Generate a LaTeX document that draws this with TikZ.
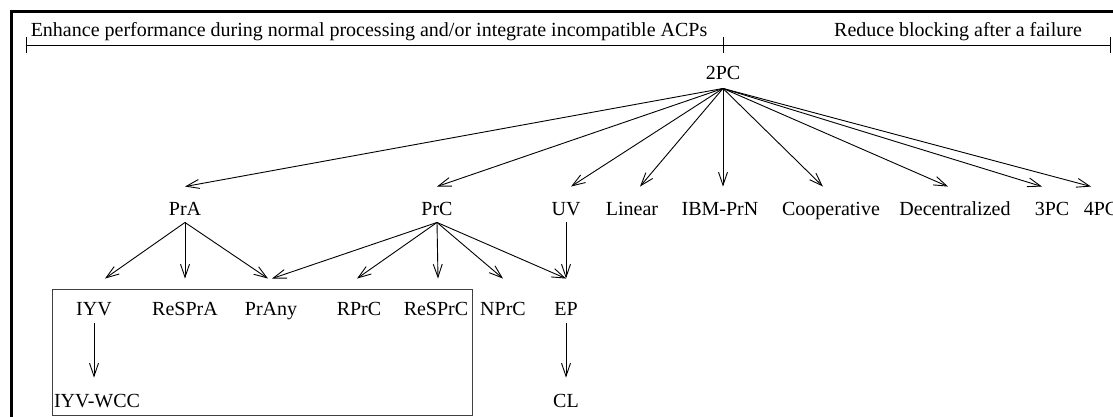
\documentclass[tikz,border=0pt]{standalone}
\usepackage{fontspec}
\setmainfont{Liberation Serif}
\usetikzlibrary{arrows.meta}
\begin{document}
\begin{tikzpicture}[x=1pt, y=-1pt, line width=0.9pt,
		every node/.style={font=\fontsize{20}{24}\selectfont, inner sep=0pt, anchor=base},
		root/.style={text depth=8pt},
		mid/.style={text height=28pt, text depth=7pt},
		low/.style={text height=36pt, text depth=8pt},
		leaf/.style={text height=29pt},
		arr/.style={-{Straight Barb[length=13pt, width=9pt]}}]
		\clip (0,0) rectangle (1113,417);
		\draw[line width=3pt] (11,430) -- (11,12) -- (1130,12);
		
		%range bar on top
		\draw (26,45) -- (1110,45);
		\draw (26,37) -- (26,53);
		\draw (723,37) -- (723,53);
		\draw (1110,37) -- (1110,53);
		\node (perf) at (369,37) {Enhance performance during normal processing and/or integrate incompatible ACPs};
		\node (block) at (958,37) {Reduce blocking after a failure};
		
		%root
		\node[root] (tpc) at (723,80) {2PC};
		
		%second level
		\node[mid] (PrA) at (185,215) {PrA};
		\node[mid] (PrC) at (437,215) {PrC};
		\node[mid] (UV) at (566,215) {UV};
		\node[mid] (Linear) at (632,215) {Linear};
		\node[mid] (IBMPrN) at (720,215) {IBM-PrN};
		\node[mid] (Coop) at (831,215) {Cooperative};
		\node[mid] (Decen) at (955,215) {Decentralized};
		\node[mid] (tpcThree) at (1052,215) {3PC};
		\node[mid] (tpcFour) at (1101,215) {4PC};
		
		\draw[arr] (tpc.south) -- (PrA.north);
		\draw[arr] (tpc.south) -- (PrC.north);
		\draw[arr] (tpc.south) -- ([xshift=5pt]UV.north);
		\draw[arr] (tpc.south) -- ([xshift=8pt]Linear.north);
		\draw[arr] (tpc.south) -- (tpc.south |- IBMPrN.north);
		\draw[arr] (tpc.south) -- ([xshift=-8pt]Coop.north);
		\draw[arr] (tpc.south) -- ([xshift=-7pt]Decen.north);
		\draw[arr] (tpc.south) -- ([xshift=-10pt]tpcThree.north);
		\draw[arr] (tpc.south) -- ([xshift=-10pt]tpcFour.north);
		
		%third level, the boxed group
		\draw[black!75] (52,289) rectangle (472,415);
		\node[low] (IYV) at (94,315) {IYV};
		\node[low] (ReSPrA) at (185,315) {ReSPrA};
		\node[low] (PrAny) at (271,315) {PrAny};
		\node[low] (RPrC) at (359,315) {RPrC};
		\node[low] (ReSPrC) at (436,315) {ReSPrC};
		\node[low] (NPrC) at (503,315) {NPrC};
		\node[low] (EP) at (566,315) {EP};
		
		\draw[arr] (PrA.south) -- ([xshift=11pt]IYV.north);
		\draw[arr] (PrA.south) -- (ReSPrA.north);
		\draw[arr] (PrA.south) -- ([xshift=-3pt]PrAny.north);
		\draw[arr] (PrC.south) -- ([xshift=1pt]PrAny.north);
		\draw[arr] (PrC.south) -- ([xshift=-2pt]RPrC.north);
		\draw[arr] (PrC.south) -- ([xshift=2pt]ReSPrC.north);
		\draw[arr] (PrC.south) -- (NPrC.north);
		\draw[arr] (PrC.south) -- (EP.north);
		\draw[arr] (UV.south) -- (EP.north);
		
		%leaves
		\node[leaf] (IYVWCC) at (97,407) {IYV-WCC};
		\node[leaf] (CL) at (566,407) {CL};
		\draw[arr] (IYV.south) -- (IYV.south |- IYVWCC.north);
		\draw[arr] (EP.south) -- (CL.north);
	\end{tikzpicture}
\end{document}
